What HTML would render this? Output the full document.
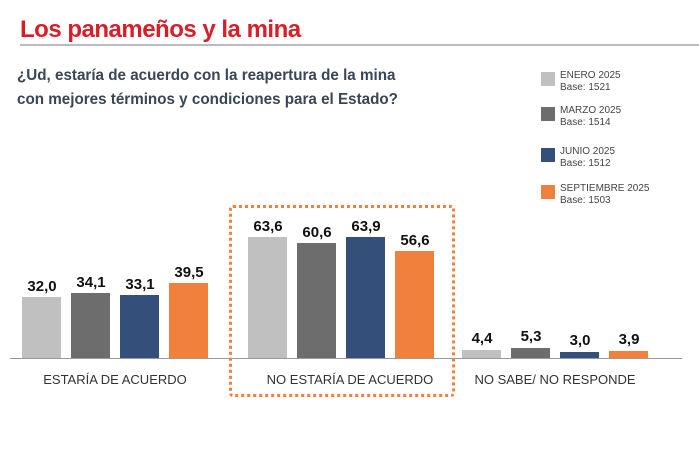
<!DOCTYPE html>
<html><head><meta charset="utf-8"><style>
body{margin:0;width:699px;height:466px;background:#fff;position:relative;overflow:hidden;font-family:"Liberation Sans Narrow","Liberation Sans",sans-serif}
.a{position:absolute;white-space:nowrap}
.bar{position:absolute;width:39px}
.v{position:absolute;width:60px;text-align:center;font-weight:bold;font-size:15px;color:#111}
.lg{position:absolute;left:541px;width:14px;height:14px}
.lt{position:absolute;left:560px;font-size:10px;color:#444;line-height:12px}
.cat{position:absolute;font-size:13px;color:#333;text-align:center;top:372px}
</style></head><body>
<div class="a" style="left:20px;top:16px;font-size:24px;font-weight:bold;color:#d71f2a;font-family:'Liberation Sans',sans-serif;letter-spacing:-0.5px">Los panameños y la mina</div>
<div class="a" style="left:20px;top:44px;width:679px;height:2px;background:#bbb"></div>
<div class="a" style="left:17px;top:64px;font-size:16px;font-weight:bold;color:#3a4556;line-height:24px;transform:scaleX(0.95);transform-origin:0 0">¿Ud, estaría de acuerdo con la reapertura de la mina<br>con mejores términos y condiciones para el Estado?</div>
<div class="lg" style="top:72px;background:#c0c0c0"></div><div class="lt" style="top:70px">ENERO 2025<br>Base: 1521</div>
<div class="lg" style="top:107px;background:#6d6d6d"></div><div class="lt" style="top:105px">MARZO 2025<br>Base: 1514</div>
<div class="lg" style="top:148px;background:#34507a"></div><div class="lt" style="top:146px">JUNIO 2025<br>Base: 1512</div>
<div class="lg" style="top:185px;background:#f0803c"></div><div class="lt" style="top:183px">SEPTIEMBRE 2025<br>Base: 1503</div>
<div class="a" style="left:229px;top:205px;width:220px;height:186px;border:3px dotted #f0803c;border-radius:4px"></div>
<div class="a" style="left:10px;top:358px;width:672px;height:1px;background:#999"></div>
<div class="bar" style="left:22px;top:297px;height:61px;background:#c0c0c0"></div><div class="v" style="left:12px;top:278px">32,0</div>
<div class="bar" style="left:71px;top:293px;height:65px;background:#6d6d6d"></div><div class="v" style="left:61px;top:274px">34,1</div>
<div class="bar" style="left:120px;top:295px;height:63px;background:#34507a"></div><div class="v" style="left:110px;top:276px">33,1</div>
<div class="bar" style="left:169px;top:283px;height:75px;background:#f0803c"></div><div class="v" style="left:159px;top:264px">39,5</div>
<div class="bar" style="left:248px;top:237px;height:121px;background:#c0c0c0"></div><div class="v" style="left:238px;top:218px">63,6</div>
<div class="bar" style="left:297px;top:243px;height:115px;background:#6d6d6d"></div><div class="v" style="left:287px;top:224px">60,6</div>
<div class="bar" style="left:346px;top:237px;height:121px;background:#34507a"></div><div class="v" style="left:336px;top:218px">63,9</div>
<div class="bar" style="left:395px;top:251px;height:107px;background:#f0803c"></div><div class="v" style="left:385px;top:232px">56,6</div>
<div class="bar" style="left:462px;top:350px;height:8px;background:#c0c0c0"></div><div class="v" style="left:452px;top:330px">4,4</div>
<div class="bar" style="left:511px;top:348px;height:10px;background:#6d6d6d"></div><div class="v" style="left:501px;top:328px">5,3</div>
<div class="bar" style="left:560px;top:352px;height:6px;background:#34507a"></div><div class="v" style="left:550px;top:332px">3,0</div>
<div class="bar" style="left:609px;top:351px;height:7px;background:#f0803c"></div><div class="v" style="left:599px;top:331px">3,9</div>
<div class="cat" style="left:20px;width:190px">ESTARÍA DE ACUERDO</div>
<div class="cat" style="left:255px;width:190px">NO ESTARÍA DE ACUERDO</div>
<div class="cat" style="left:460px;width:190px">NO SABE/ NO RESPONDE</div>
</body></html>
